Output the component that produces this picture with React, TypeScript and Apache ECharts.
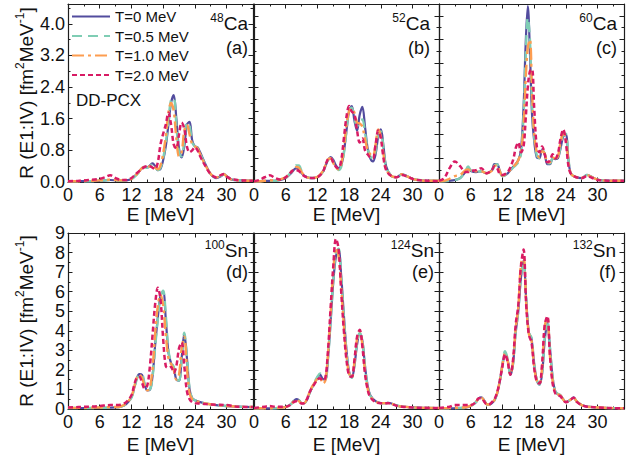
import React, { useEffect, useRef } from "react";
import * as echarts from "echarts";

const LEGEND_NAMES = ["T=0 MeV", "T=0.5 MeV", "T=1.0 MeV", "T=2.0 MeV"];
const X_TICKS = [0, 6, 12, 18, 24, 30];
const Y_TICKS_TOP = [0, 0.8, 1.6, 2.4, 3.2, 4.0];
const Y_TICKS_BOTTOM = [0, 1, 2, 3, 4, 5, 6, 7, 8, 9];

// (a) 48Ca
const E_A = [0,2,4,6,7,8,9,10,11,12,13,14,14.5,15,15.5,16,16.5,17,17.5,18,18.5,19,19.5,20,20.5,21,21.5,22,22.5,23,23.5,24,24.5,25,26,27,28,29,29.5,30,31,33,35];
const A_T0 = [0.02,0.02,0.02,0.03,0.04,0.05,0.04,0.03,0.04,0.08,0.2,0.35,0.38,0.37,0.42,0.47,0.4,0.3,0.33,0.55,0.9,1.45,2.0,2.2,1.6,0.85,0.62,0.9,1.45,1.52,1.05,0.9,0.88,0.75,0.45,0.2,0.1,0.15,0.2,0.15,0.06,0.04,0.03];
const A_T05 = [0.02,0.02,0.02,0.03,0.04,0.05,0.04,0.03,0.04,0.07,0.18,0.33,0.37,0.36,0.4,0.44,0.38,0.3,0.36,0.6,0.98,1.55,2.08,2.12,1.45,0.75,0.65,1.05,1.5,1.42,1.0,0.9,0.86,0.72,0.43,0.2,0.1,0.16,0.2,0.14,0.06,0.04,0.03];
const A_T1 = [0.02,0.02,0.03,0.04,0.05,0.06,0.05,0.04,0.05,0.08,0.2,0.35,0.38,0.38,0.4,0.42,0.36,0.32,0.42,0.72,1.15,1.75,2.0,1.8,1.1,0.65,0.75,1.3,1.45,1.2,0.95,0.9,0.85,0.7,0.42,0.2,0.11,0.17,0.2,0.14,0.06,0.04,0.03];
const A_T2 = [0.02,0.03,0.05,0.08,0.12,0.17,0.1,0.05,0.05,0.1,0.22,0.33,0.38,0.4,0.4,0.36,0.33,0.5,0.95,1.22,1.45,1.75,1.45,0.95,0.85,1.2,1.5,1.35,0.9,0.75,0.8,0.88,0.8,0.65,0.4,0.2,0.12,0.18,0.2,0.14,0.07,0.04,0.03];

// (b) 52Ca
const E_B = [0,1,2,3,4,5,6,7,7.5,8,8.5,9,10,11,12,13,13.5,14,14.5,15,15.5,16,16.5,17,17.5,18,18.5,19,19.5,20,20.5,21,21.5,22,22.5,23,23.5,24,24.5,25,26,27,28,29,30,31,33,35];
const B_T0 = [0.02,0.02,0.03,0.03,0.03,0.05,0.1,0.22,0.3,0.35,0.33,0.22,0.12,0.1,0.13,0.25,0.4,0.55,0.63,0.56,0.42,0.35,0.42,0.75,1.3,1.8,1.92,1.55,1.3,1.7,1.9,1.4,0.85,0.6,0.52,0.7,1.15,1.33,0.9,0.4,0.15,0.12,0.2,0.14,0.08,0.05,0.03,0.03];
const B_T05 = [0.02,0.02,0.03,0.03,0.03,0.05,0.1,0.25,0.35,0.42,0.42,0.28,0.12,0.1,0.13,0.25,0.4,0.55,0.6,0.5,0.38,0.3,0.38,0.72,1.3,1.8,1.88,1.62,1.4,1.55,1.58,1.25,0.85,0.65,0.58,0.78,1.2,1.28,0.85,0.38,0.15,0.12,0.2,0.14,0.08,0.05,0.03,0.03];
const B_T1 = [0.02,0.02,0.03,0.04,0.05,0.07,0.12,0.25,0.32,0.38,0.36,0.25,0.12,0.1,0.13,0.27,0.42,0.57,0.6,0.48,0.36,0.32,0.45,0.85,1.45,1.8,1.85,1.75,1.5,1.48,1.4,1.08,0.82,0.7,0.66,0.95,1.33,1.15,0.7,0.32,0.15,0.12,0.2,0.14,0.08,0.05,0.03,0.03];
const B_T2 = [0.02,0.05,0.12,0.17,0.1,0.06,0.12,0.25,0.3,0.3,0.28,0.2,0.12,0.1,0.12,0.25,0.42,0.58,0.6,0.5,0.38,0.35,0.55,1.1,1.65,1.92,1.78,1.72,1.3,1.0,1.1,0.8,0.7,0.62,0.6,0.95,1.3,1.1,0.6,0.3,0.15,0.12,0.18,0.14,0.08,0.05,0.03,0.02];

// (c) 60Ca
const E_C = [0,1,2,3,4,5,5.5,6,7,8,9,10,10.5,11,11.5,12,13,14,14.5,15,15.5,16,16.4,16.8,17.2,17.6,18,18.5,19,19.5,20,20.5,21,21.5,22,22.5,23,23.5,24,24.5,25,26,27,28,29,30,31,33,35];
const C_T0 = [0.02,0.02,0.03,0.05,0.1,0.25,0.33,0.28,0.25,0.27,0.22,0.3,0.45,0.45,0.28,0.15,0.22,0.38,0.45,0.55,0.8,1.9,3.5,4.45,3.3,1.7,1.05,0.62,0.6,0.82,0.7,0.45,0.45,0.6,0.58,0.6,0.85,1.15,1.2,0.55,0.2,0.12,0.1,0.18,0.12,0.06,0.04,0.03,0.03];
const C_T05 = [0.02,0.02,0.03,0.05,0.1,0.28,0.39,0.3,0.25,0.27,0.22,0.28,0.42,0.45,0.28,0.15,0.22,0.36,0.42,0.5,0.7,1.7,3.2,4.15,3.6,2.0,1.15,0.68,0.6,0.8,0.72,0.48,0.47,0.6,0.58,0.62,0.9,1.2,1.22,0.58,0.2,0.12,0.1,0.18,0.12,0.06,0.04,0.03,0.03];
const C_T1 = [0.02,0.03,0.08,0.15,0.18,0.3,0.32,0.28,0.27,0.27,0.22,0.28,0.4,0.42,0.27,0.16,0.24,0.38,0.45,0.55,0.75,1.4,2.6,3.4,3.6,2.3,1.25,0.75,0.62,0.78,0.72,0.5,0.5,0.62,0.6,0.65,1.0,1.25,1.1,0.5,0.2,0.12,0.1,0.17,0.12,0.06,0.04,0.03,0.03];
const C_T2 = [0.03,0.1,0.35,0.52,0.4,0.25,0.25,0.28,0.3,0.35,0.22,0.3,0.4,0.35,0.2,0.18,0.25,0.55,0.85,1.0,0.75,0.9,1.6,2.4,2.8,2.85,1.9,0.9,0.75,0.9,0.7,0.5,0.55,0.7,0.6,0.72,1.1,1.33,1.0,0.4,0.2,0.12,0.1,0.15,0.1,0.05,0.04,0.03,0.03];

// (d) 100Sn
const E_D = [0,2,4,6,8,9,10,11,12,12.5,13,13.5,14,14.5,15,15.5,16,16.5,17,17.5,18,18.5,19,19.5,20,20.5,21,21.5,22,22.5,23,23.5,24,25,26,28,30,32,35];
const D_T0 = [0.05,0.05,0.05,0.06,0.07,0.08,0.12,0.25,0.6,1.05,1.55,1.78,1.75,1.25,0.95,0.98,1.7,3.3,4.7,5.8,6.0,4.6,2.9,2.35,2.1,1.5,1.45,2.6,3.85,2.6,1.0,0.55,0.45,0.35,0.28,0.2,0.15,0.12,0.1];
const D_T05 = [0.05,0.05,0.05,0.06,0.07,0.08,0.12,0.25,0.58,1.0,1.5,1.75,1.75,1.3,0.98,1.0,1.65,3.2,4.6,5.75,6.05,4.8,3.0,2.4,2.15,1.55,1.45,2.5,3.9,2.7,1.05,0.55,0.45,0.35,0.28,0.2,0.15,0.12,0.1];
const D_T1 = [0.06,0.06,0.07,0.08,0.1,0.1,0.14,0.28,0.65,1.1,1.6,1.75,1.6,1.15,0.95,1.1,2.1,3.9,5.3,5.85,5.3,3.8,2.6,2.3,2.0,1.5,1.75,3.1,3.7,2.1,0.8,0.5,0.42,0.35,0.28,0.2,0.15,0.12,0.1];
const D_T2 = [0.08,0.1,0.12,0.15,0.2,0.2,0.22,0.35,0.7,1.2,1.6,1.65,1.35,1.05,1.2,2.2,3.8,5.4,6.2,5.6,3.6,2.2,2.1,2.15,1.85,2.2,3.1,3.4,2.2,0.9,0.5,0.35,0.3,0.28,0.25,0.22,0.2,0.12,0.1];

// (e) 124Sn
const E_E = [0,2,3,4,6,7,7.5,8,8.5,9,9.5,10,10.5,11,11.5,12,12.5,13,13.5,14,14.5,15,15.5,16,16.5,17,17.5,18,18.5,19,19.5,20,20.5,21,21.5,22,23,24,25,25.5,26,27,28,30,32,35];
const E_T0 = [0.03,0.03,0.03,0.04,0.1,0.25,0.4,0.5,0.45,0.3,0.3,0.45,0.8,1.1,1.35,1.6,1.75,1.55,1.5,2.6,4.5,6.5,7.8,8.15,6.8,4.8,3.0,1.9,1.6,2.2,3.3,3.85,3.5,2.2,1.2,0.7,0.4,0.3,0.3,0.32,0.28,0.18,0.12,0.08,0.06,0.05];
const E_T05 = [0.03,0.03,0.03,0.04,0.1,0.25,0.42,0.52,0.45,0.3,0.3,0.45,0.8,1.12,1.4,1.65,1.82,1.65,1.5,2.6,4.5,6.6,8.0,8.2,6.7,4.7,2.9,1.85,1.6,2.3,3.4,3.9,3.5,2.15,1.15,0.68,0.4,0.3,0.3,0.32,0.28,0.18,0.12,0.08,0.06,0.05];
const E_T1 = [0.04,0.04,0.04,0.05,0.1,0.25,0.38,0.45,0.4,0.3,0.3,0.5,0.85,1.15,1.35,1.55,1.6,1.3,1.45,2.8,4.9,7.0,8.25,7.8,6.2,4.3,2.7,1.8,1.6,2.4,3.6,4.0,3.3,1.95,1.05,0.65,0.38,0.3,0.3,0.32,0.27,0.18,0.12,0.08,0.06,0.05];
const E_T2 = [0.05,0.12,0.15,0.12,0.12,0.22,0.35,0.4,0.35,0.28,0.3,0.5,0.85,1.1,1.3,1.5,1.57,1.45,1.6,3.0,5.2,7.3,8.7,8.2,6.0,4.0,2.5,1.7,1.65,2.5,3.7,4.05,3.2,1.8,1.0,0.6,0.35,0.3,0.3,0.3,0.25,0.17,0.12,0.08,0.06,0.05];

// (f) 132Sn
const E_F = [0,2,3,4,5,6,7,7.5,8,8.5,9,9.5,10,10.5,11,11.5,12,12.5,13,13.5,14,14.5,15,15.5,16,16.5,17,17.5,18,18.5,19,19.5,20,20.5,21,21.5,22,22.5,23,23.5,24,25,25.5,26,27,28,30,32,35];
const F_T0 = [0.03,0.03,0.04,0.05,0.07,0.15,0.35,0.55,0.6,0.45,0.25,0.22,0.3,0.45,0.8,1.4,2.2,2.85,2.5,1.75,2.3,3.9,5.0,6.7,7.6,5.6,3.9,3.6,2.3,1.5,1.25,1.8,3.5,4.4,3.1,1.6,0.9,0.75,0.7,0.5,0.35,0.5,0.6,0.4,0.2,0.12,0.08,0.05,0.04];
const F_T05 = [0.03,0.03,0.04,0.05,0.07,0.15,0.35,0.56,0.6,0.45,0.25,0.22,0.3,0.45,0.8,1.45,2.3,2.95,2.55,1.75,2.3,3.9,5.0,6.8,7.5,5.6,3.9,3.65,2.35,1.5,1.25,1.85,3.6,4.6,3.1,1.6,0.9,0.78,0.72,0.5,0.35,0.5,0.6,0.4,0.2,0.12,0.08,0.05,0.04];
const F_T1 = [0.04,0.05,0.06,0.07,0.09,0.17,0.37,0.56,0.58,0.43,0.25,0.23,0.32,0.47,0.82,1.45,2.25,2.85,2.45,1.75,2.4,4.1,5.2,7.4,7.8,5.4,3.85,3.5,2.2,1.45,1.3,2.1,4.2,4.7,2.7,1.45,0.85,0.75,0.68,0.48,0.35,0.5,0.6,0.4,0.2,0.12,0.08,0.05,0.04];
const F_T2 = [0.05,0.12,0.2,0.2,0.2,0.2,0.35,0.55,0.55,0.4,0.25,0.25,0.35,0.5,0.85,1.45,2.2,2.8,2.4,1.75,2.5,4.3,5.3,7.3,8.15,5.3,3.8,3.4,2.1,1.4,1.3,2.3,4.3,4.75,2.7,1.3,0.8,0.7,0.65,0.45,0.35,0.5,0.58,0.38,0.2,0.12,0.08,0.05,0.04];

const PANELS = [
  { e: E_A, s: [A_T0, A_T05, A_T1, A_T2], mass: "48", el: "Ca", tag: "(a)", row: 0, col: 0 },
  { e: E_B, s: [B_T0, B_T05, B_T1, B_T2], mass: "52", el: "Ca", tag: "(b)", row: 0, col: 1 },
  { e: E_C, s: [C_T0, C_T05, C_T1, C_T2], mass: "60", el: "Ca", tag: "(c)", row: 0, col: 2 },
  { e: E_D, s: [D_T0, D_T05, D_T1, D_T2], mass: "100", el: "Sn", tag: "(d)", row: 1, col: 0 },
  { e: E_E, s: [E_T0, E_T05, E_T1, E_T2], mass: "124", el: "Sn", tag: "(e)", row: 1, col: 1 },
  { e: E_F, s: [F_T0, F_T05, F_T1, F_T2], mass: "132", el: "Sn", tag: "(f)", row: 1, col: 2 },
];

const FONT = '"Liberation Sans", Arial, Helvetica, sans-serif';
const AXIS_COLOR = "#1e1e1e";
const TEXT_COLOR = "#111";
const COLORS = ["#524c9e", "#7fcdb4", "#fd9d50", "#d81b64"];
const DASHES: any[] = ["solid", [10, 6], [12, 4, 3, 4], [5, 3]];
const WIDTHS = [2.2, 2.4, 2.4, 2.5];

const LEFTS = [68, 254, 439];
const PANEL_W = 185;
const ROWS = [
  { top: 4, height: 178, max: 4.5, nameGap: 23 },
  { top: 233, height: 176, max: 9, nameGap: 26 },
];
const TAG_RIGHT = [[248, 430, 617], [248, 434, 616]];
const TAG_Y = [[23, 48], [250, 272]];

const near = (arr: number[], v: number) => arr.some((t) => Math.abs(t - v) < 1e-6);

export default function App() {
  const ref = useRef<HTMLDivElement>(null);
  useEffect(() => {
    const el = ref.current!;
    const chart = echarts.init(el, null, { renderer: "svg" });
    const grids: any[] = [];
    const xAxes: any[] = [];
    const yAxes: any[] = [];
    const series: any[] = [];
    const graphics: any[] = [];

    const line = { show: true, onZero: false, lineStyle: { color: AXIS_COLOR, width: 1.2 } };
    const tick = { show: true, inside: true, length: 4.5, lineStyle: { color: AXIS_COLOR, width: 1 } };
    const minor = { show: true, splitNumber: 2, length: 2.5, lineStyle: { color: AXIS_COLOR, width: 1 } };
    const richName = {
      n: { fontSize: 19, fontFamily: FONT, color: TEXT_COLOR, lineHeight: 24 },
      s: { fontSize: 12, fontFamily: FONT, color: TEXT_COLOR, lineHeight: 12, verticalAlign: "top" },
    };

    PANELS.forEach((p, i) => {
      const row = ROWS[p.row];
      const left = LEFTS[p.col];
      grids.push({ left, top: row.top, width: PANEL_W, height: row.height });
      const xCommon = {
        type: "value", gridIndex: i, min: 0, max: 35, interval: 6,
        axisLine: line, axisTick: tick, minorTick: minor, splitLine: { show: false },
      };
      xAxes.push({
        ...xCommon, position: "bottom",
        axisLabel: {
          show: true, fontSize: 18, color: TEXT_COLOR, fontFamily: FONT, margin: 4, showMaxLabel: false,
          formatter: (v: number) => (near(X_TICKS, v) ? String(v) : ""),
        },
        name: "E [MeV]", nameLocation: "middle", nameGap: row.nameGap,
        nameTextStyle: { fontSize: 19, color: TEXT_COLOR, fontFamily: FONT },
      });
      xAxes.push({ ...xCommon, position: "top", axisLabel: { show: false } });

      const yInterval = p.row === 0 ? (p.col === 0 ? 0.8 : 0.6) : 1;
      const yCommon = {
        type: "value", gridIndex: i, min: 0, max: row.max, interval: yInterval,
        axisLine: line, axisTick: tick, minorTick: minor, splitLine: { show: false },
      };
      const yTicks = p.row === 0 ? Y_TICKS_TOP : Y_TICKS_BOTTOM;
      yAxes.push({
        ...yCommon, position: "left",
        axisLabel: {
          show: p.col === 0, fontSize: 18, color: TEXT_COLOR, fontFamily: FONT, margin: 3,
          showMaxLabel: p.row === 1,
          formatter: (v: number) => (near(yTicks, v) ? (p.row === 0 ? v.toFixed(1) : String(v)) : ""),
        },
        name: p.col === 0 ? "{n|R (E1:IV) [fm}{s|2}{n|MeV}{s|-1}{n|]}" : "",
        nameLocation: "middle", nameGap: 30,
        nameTextStyle: { fontSize: 19, color: TEXT_COLOR, fontFamily: FONT, rich: richName },
      });
      yAxes.push({ ...yCommon, position: "right", axisLabel: { show: false } });

      p.s.forEach((vals, k) => {
        series.push({
          type: "line", name: LEGEND_NAMES[k], xAxisIndex: 2 * i, yAxisIndex: 2 * i,
          data: p.e.map((x, j) => [x, vals[j]]),
          smooth: 0.35, symbol: "none", showSymbol: false, clip: true, z: 2 + k,
          lineStyle: { color: COLORS[k], width: WIDTHS[k], type: DASHES[k] },
          itemStyle: { color: COLORS[k] },
        });
      });

      const rx = TAG_RIGHT[p.row][p.col];
      const [ty1, ty2] = TAG_Y[p.row];
      graphics.push({
        type: "text", x: rx, y: ty1, z: 10,
        style: {
          text: `{s|${p.mass}}{m|${p.el}}`, align: "right", verticalAlign: "middle",
          rich: {
            s: { fontSize: 12, fontFamily: FONT, fill: TEXT_COLOR, lineHeight: 10, verticalAlign: "top" },
            m: { fontSize: 19, fontFamily: FONT, fill: TEXT_COLOR, lineHeight: 22 },
          },
        },
      });
      graphics.push({
        type: "text", x: rx, y: ty2, z: 10,
        style: { text: p.tag, align: "right", verticalAlign: "middle", fontSize: 18, fontFamily: FONT, fill: TEXT_COLOR },
      });
    });

    graphics.push({
      type: "text", x: 76, y: 100, z: 10,
      style: { text: "DD-PCX", align: "left", verticalAlign: "middle", fontSize: 17, fontFamily: FONT, fill: TEXT_COLOR },
    });

    chart.setOption({
      animation: false,
      backgroundColor: "#ffffff",
      textStyle: { fontFamily: FONT },
      grid: grids,
      xAxis: xAxes,
      yAxis: yAxes,
      legend: {
        data: LEGEND_NAMES, orient: "vertical", left: 71, top: 9, padding: 0,
        itemWidth: 38, itemHeight: 10, itemGap: 4.5,
        itemStyle: { color: "rgba(0,0,0,0)", borderWidth: 0, opacity: 0 },
        textStyle: { fontSize: 15, color: TEXT_COLOR, fontFamily: FONT },
        selectedMode: false,
      },
      series,
      graphic: graphics,
    });
    return () => chart.dispose();
  }, []);
  return <div ref={ref} style={{ position: "fixed", left: 0, top: 0, width: 636, height: 461 }} />;
}
